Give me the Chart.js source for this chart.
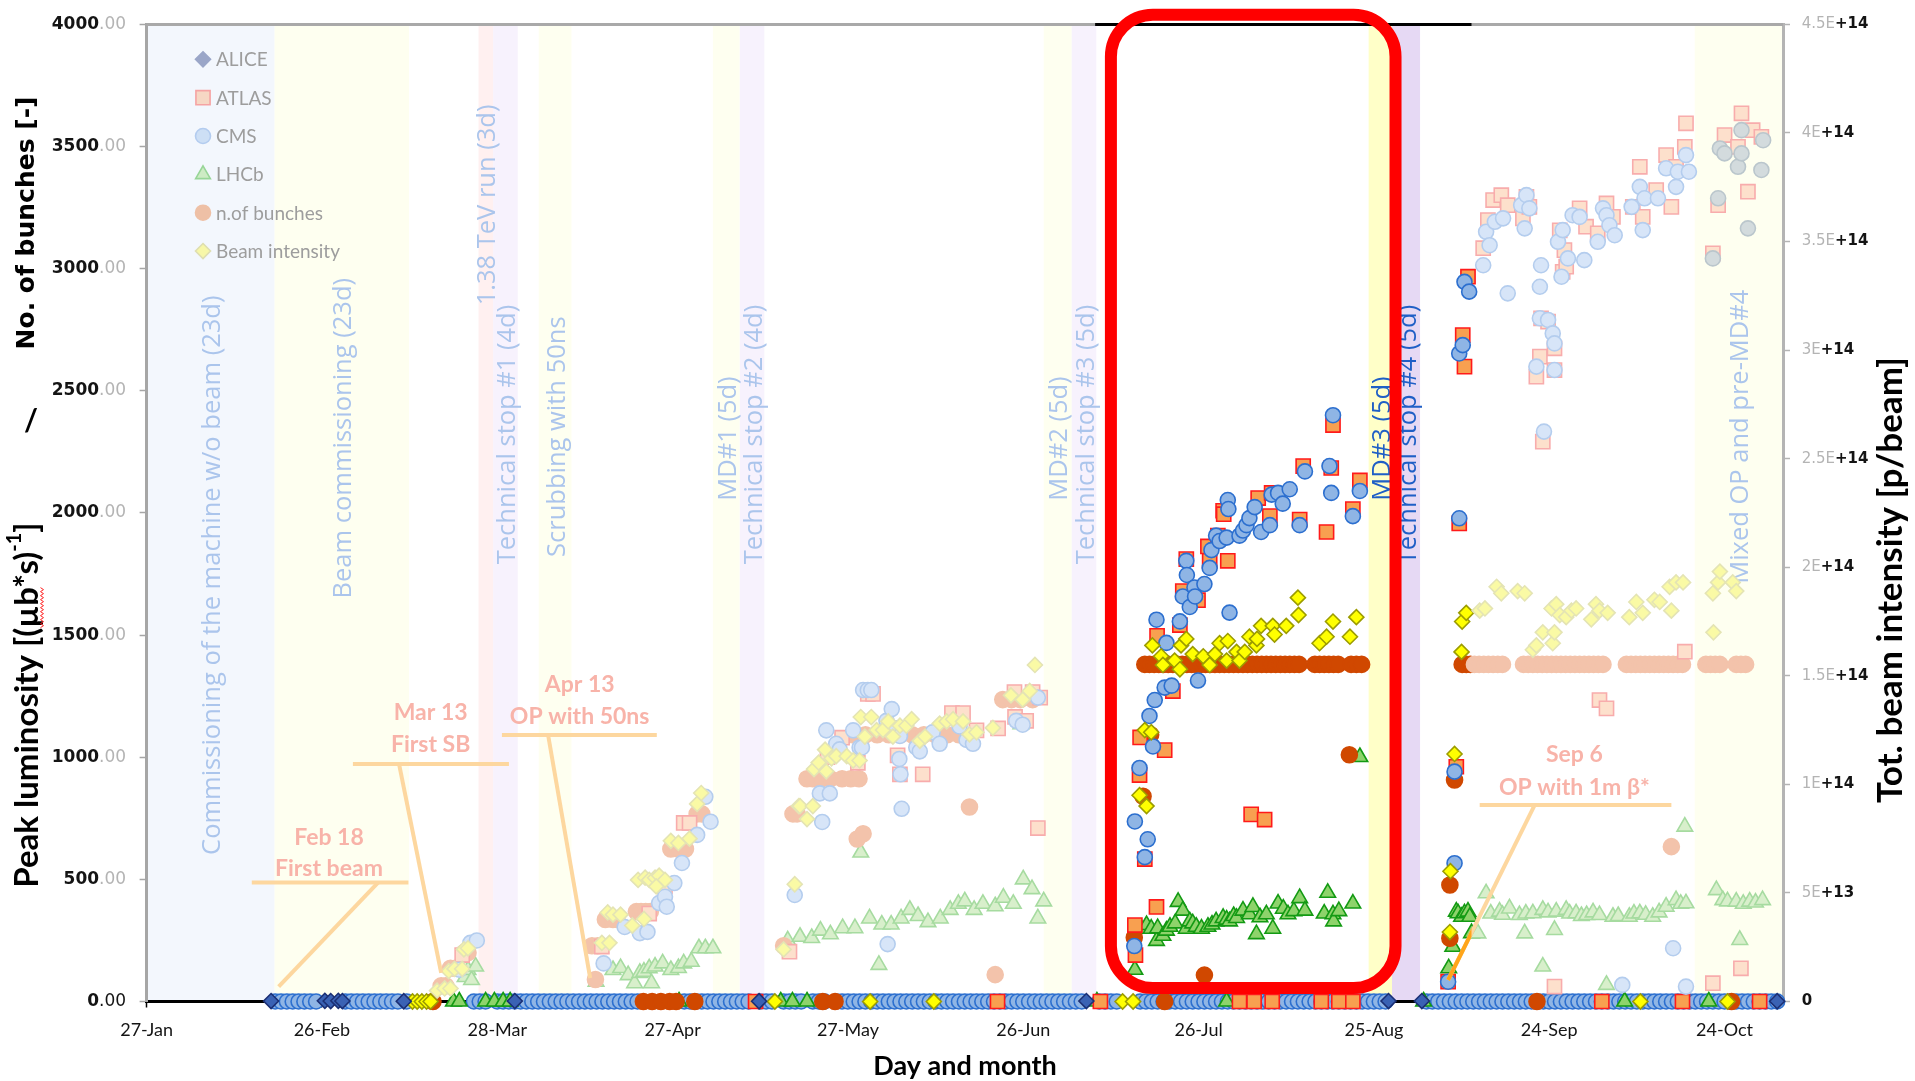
<!DOCTYPE html>
<html>
<head>
<meta charset="utf-8">
<title>LHC 2011 – peak luminosity, bunches and beam intensity</title>
<script src="https://cdn.jsdelivr.net/npm/chart.js@4.4.1/dist/chart.umd.min.js"></script>
<style>
  html, body { margin: 0; padding: 0; background: #ffffff; }
  #box { width: 1915px; height: 1081px; }
</style>
</head>
<body>
<div id="box"><canvas id="lumi" width="1915" height="1081"></canvas></div>
<script>
// ===================== data =====================
// x values are days of the year 2011 (27 = 27 January)
const tickDays   = [27, 57, 87, 117, 147, 177, 207, 237, 267, 297];
const tickLabels = ['27-Jan','26-Feb','28-Mar','27-Apr','27-May','26-Jun','26-Jul','25-Aug','24-Sep','24-Oct'];
const lumiTicks  = [0, 500, 1000, 1500, 2000, 2500, 3000, 3500, 4000];
const beamTicks  = [0, 5e13, 1e14, 1.5e14, 2e14, 2.5e14, 3e14, 3.5e14, 4e14, 4.5e14];
const beamTickLabels = ['0','5E+13','1E+14','1.5E+14','2E+14','2.5E+14','3E+14','3.5E+14','4E+14','4.5E+14'];

// machine schedule
const periodNames = ['Commissioning of the machine w/o beam (23d)','Beam commissioning (23d)','1.38 TeV run (3d)',
  'Technical stop #1 (4d)','Scrubbing with 50ns','MD#1 (5d)','Technical stop #2 (4d)','MD#2 (5d)',
  'Technical stop #3 (5d)','MD#3 (5d)','Technical stop #4 (5d)','Mixed OP and pre-MD#4'];
const periodStart = [27, 48.9, 83.8, 86.3, 94.1, 123.9, 128.5, 180.5, 185.3, 236.1, 240.1, 291.9];
const periodEnd   = [48.9, 71.9, 86.3, 90.5, 99.7, 128.5, 132.7, 185.3, 189.5, 240.1, 244.9, 307];
const periodKind  = ['setup','md','lowenergy','stop','md','md','stop','md','stop','md','stop','md'];

// milestones
const milestoneTitle = ['Feb 18', 'Mar 13', 'Apr 13', 'Sep 6'];
const milestoneText  = ['First beam', 'First SB', 'OP with 50ns', 'OP with 1m β*'];

// days highlighted (July – early September)
const focusFrom = 189.3, focusTo = 253.7;

// ALICE peak luminosity [(µb*s)^-1]
const alicePoints = [[48.3,2],[57.5,3],[58.5,2],[59.8,3],[60.5,2],[71,1],[90,2],[131.8,1],[187.8,2],[239.5,2],[245.2,2],[306,1]];

// ATLAS peak luminosity
const atlasPoints = [[81,190],
  [104.9,225],[113,360],[115.7,470],[118.9,731],[119.9,731],
  [137,204],[143.5,1000],[146,1080],[148.7,977],[150.4,1259],[151.3,1259],[155.5,1008],[155.9,930],[159.8,930],[164.8,1181],[166.7,1181],
  [169,1110],[172.7,1118],[175.5,1267],[175.6,1165],[177.5,1149],[178.6,1267],[179.5,710],[179.9,1244],
  [196.1,313],[196.2,190],[196.9,927],[197,1081],[197.8,583],[199.8,387],[199.9,1497],[201.2,1029],[202.6,1271],[203.8,1541],
  [204.3,1680],[204.9,1811],[206.9,1643],[208.6,1863],[208.9,1804],[210.3,1907],[211.2,2009],[211.3,1995],[212,1804],[216,766],
  [217.2,2061],[218.3,745],[219.2,1987],[219.5,2082],[224.3,1973],[224.9,2192],[228.9,1922],[229.7,2184],[230,2360],[233.4,2016],[234.6,2133],
  [249.7,81],[251.1,961],[251.6,1957],[252.2,2728],[252.5,2599],[253.1,2967],
  [255.7,3084],[256.5,3199],[257.4,3281],[258.8,3301],[259.9,3260],[262.5,3206],[263.1,3294],[263.6,3253],[264.8,2558],[265.4,2640],
  [265.6,2797],[265.9,2292],[266.8,2783],[267.9,2674],[267.9,2585],[267.9,61],[268.8,3157],[269.3,2987],[269.6,3076],[269.9,3008],
  [272.2,3247],[273.3,3172],[275.3,3145],[275.6,1234],[276.8,1200],[276.8,3267],[277.9,3212],[281.3,3253],[282.5,3417],[283,3212],
  [285.3,3322],[287,3465],[287.9,3253],[288.7,3417],[290.2,1432],[290.2,3499],[290.4,3595],[295,3063],[295,75],[295.9,3260],
  [297,3547],[299.3,3499],[299.8,136],[299.9,3636],[301,3315],[301.8,3567],[303.3,3540]];
const atlasZeroDays = [131.2,172.6,190.2,214,216.5,219.6,228,231,233.4,276,289.8,303];

// CMS peak luminosity
const cmsPoints = [[80.5,130],[82.4,240],[83.5,250],
  [105.2,156],[108.8,305],[111.4,280],[112.7,285],[114.7,403],[115.7,429],[116,388],[117.3,485],[118.6,567],[121.2,682],[122.6,838],[123.5,736],
  [137.9,436],[142.2,852],[142.6,735],[143.3,1110],[143.9,852],[145,1055],[145.6,1032],[147.9,1110],[149,1040],[149.4,1040],[149.6,1275],
  [150.4,1275],[151,1275],[153.6,1149],[153.8,235],[154.5,1197],[155.3,1118],[155.8,993],[155.9,1087],[156,930],[156.2,789],[158.7,1040],
  [159.3,1024],[161.5,1102],[162.7,1055],[166.1,1126],[167.3,1071],[168.4,1055],[175.8,1149],[176.9,1133],[179.5,1244],
  [196,227],[196.1,737],[196.9,956],[197.8,591],[198.3,664],[198.6,1169],[199.2,1044],[199.5,1234],[199.8,1563],[201.2,1285],[201.5,1468],
  [202.4,1293],[203.8,1556],[204.3,1658],[204.9,1804],[205,1746],[205.5,1615],[206.3,1695],[206.4,1658],[206.9,1314],[208,1709],[208.9,1775],
  [209.2,1848],[210,1907],[210.6,1885],[211.8,1899],[212,2053],[212.1,2016],[212.3,1592],[214,1907],[214.6,1928],[215.2,1950],[215.7,1979],
  [216.6,2024],[217.7,1922],[219.2,1950],[219.5,2075],[220.6,2082],[221.4,2038],[222.6,2097],[224.3,1950],[225.2,2170],[229.4,2192],
  [229.7,2082],[230,2400],[233.4,1987],[234.6,2090],
  [249.7,81],[250.8,566],[250.8,941],[251.6,1978],[251.6,2653],[252.2,2687],[252.5,2946],[253.3,2906],
  [255.7,3014],[256.2,3151],[256.8,3096],[257.7,3192],[259.1,3206],[259.9,2899],[262.2,3260],[262.8,3165],[263.1,3301],[263.6,3247],
  [264.8,2599],[265.4,2926],[265.4,2797],[265.6,3014],[266.1,2333],[266.8,2790],[267.6,2735],[267.9,2694],[267.9,2585],[268.5,3110],
  [269.1,2967],[269.3,3158],[270.2,3042],[271,3219],[272.2,3212],[273,3035],[275.3,3110],[276.2,3247],[276.8,3219],[277.3,3178],
  [278.2,3137],[279.5,68],[281.1,3253],[282.5,3335],[283,3158],[283.3,3288],[285.6,3288],[287,3411],[288.2,218],[288.7,3335],[289,3397],
  [290.4,3465],[290.4,61],[290.9,3397],[295,3042],[295.9,3288],[296.2,3492],[297,3472],[299.3,3417],[299.9,3567],[299.9,3472],[301,3165],
  [303.3,3404],[303.6,3526]];
const cmsZeroDays = [49,50,51,52,53,54,55,56,61,62,63,64,65,66,67,68,69,70,71.5,83,84,85,87,88,89,90,91,92,93,94,95,96,97,98,99,100,101,102,
  103,104,105,106,107,108,109,110,111,119,120,121,122,123,124,125,126,127,128,129,130,132,133,134,136,137,138,139,141,142,143,145,146,147,
  148,149,150,151,152,153,154,155,156,157,158,159,160,161,162,163,164,165,166,167,168,169,170,171,172,173,174,175,176,177,178,179,180,181,
  182,183,184,185,186,187,190,191,192,193,197,198,199,200,201,202,203,204,205,206,207,208,209,210,211,212,213,214,215,216,217,218,219,220,
  221,222,223,224,225,226,227,228,229,230,231,232,233,234,235,236,237,238,239,246,247,248,249,250,251,252,253,254,255,256,257,258,259,260,
  261,262,263,264,265,266,267,268,269,270,271,272,273,274,275,276,277,278,279,280,281,282,283,284,285,286,287,288,289,290,291,292,293,294,
  295,296,297,298,299,300,301,302,303,304,305,306];

// LHCb peak luminosity
const lhcbPoints = [[81.5,100],[82,129],[82.6,88],[83.3,143],
  [103.9,81],[106.8,129],[108.1,137],[109.4,108],[110.5,75],[111.4,117],[112.1,122],[113,136],[113.4,75],[114,143],[115.3,156],[116.7,129],
  [118,137],[118.9,156],[120.2,163],[121.5,218],[122.6,218],[123.9,218],
  [136.7,250],[138.8,265],[140.8,260],[142.3,290],[144,275],[146.1,300],[148.2,300],[149.2,610],[150.7,340],[152.3,150],[152.8,315],
  [154.4,315],[156.1,340],[157.6,375],[159,350],[160.7,325],[162.8,340],[164.5,375],[165.9,400],[167,410],[168.6,375],[170.1,400],
  [172.2,390],[173.6,425],[175.3,400],[176.6,1135],[177,500],[178.5,460],[179.5,340],[180.5,410],
  [196.1,130],[197.2,298],[198.1,313],[198.9,298],[199.8,248],[200,300],[200.9,269],[201.5,290],[202.1,306],[203,320],[203.5,408],
  [204.3,372],[204.9,298],[205.5,328],[206,320],[206.6,306],[207.5,298],[208.6,306],[209.3,315],[210,328],[211.2,342],[211.8,335],
  [212.3,328],[213,350],[213.5,342],[214.6,372],[215.7,357],[216.3,387],[216.9,276],[217.5,345],[218.6,357],[219.7,298],[220.6,401],
  [221.5,380],[222.3,357],[223.3,370],[224.3,423],[225.2,372],[228.5,360],[229.1,445],[230,357],[230.1,328],[231,370],[233.4,401],[234.6,1001],
  [249.8,136],[250.5,224],[251.1,368],[251.4,361],[252,347],[252.5,361],[253.1,368],[253.4,347],[253.7,280],
  [254.8,279],[256.2,443],[257,360],[258.5,368],[259,355],[260.2,381],[261.9,354],[262.8,279],[263,360],[264.2,361],[265.9,375],
  [265.9,143],[266.8,365],[267.9,293],[268.2,368],[269.9,375],[270.5,360],[271.6,361],[272.5,350],[273.4,354],[274.5,365],[275.6,354],
  [276.8,68],[277.9,347],[278.8,350],[280.7,347],[281.5,360],[282.5,361],[283.5,355],[284.7,347],[285.8,365],[287,388],[288.7,415],
  [289.5,400],[290.2,716],[290.4,402],[295.6,456],[296.7,415],[297.5,410],[299,409],[299.6,252],[300.2,400],[301.3,409],[302.3,405],[303.5,415]];
const lhcbZeroDays = [79.5,80.5,85,86.5,88,89.2,118.1,135.5,137.5,140,189.6,211.8,232.3,245.5,279.9,294.3];

// number of colliding bunches
const bunchPoints = [[77.4,64],[78.2,64],[79,136],[79.8,136],[81.3,200],[82,200],
  [103.2,228],[103.8,90],[104.2,228],[105.5,336],[106.8,336],[107.5,336],[110.8,368],[111.6,368],[112.4,368],[113.2,368],[114.7,480],
  [115.4,480],[116.7,624],[118,624],[119.2,624],[121.2,768],[122,768],
  [136,228],[137.6,768],[138.3,768],[140,912],[141,912],[142.5,912],[144,912],[146,912],[147.5,912],[147.8,1092],[148.6,665],[148.9,912],
  [149.6,687],[150,1092],[152,1092],[154,1092],[156,1092],[158,1092],[160,1092],[162,1092],[164,1092],[166,1092],[167.8,796],[172.2,110],
  [173.5,1236],[175,1236],[176.5,1236],[178.6,1236],
  [196,262],[197.5,840],[198.8,1092],[208,108],[232.8,1010],
  [197.8,1380],[198.6,1380],[199.4,1380],[200.2,1380],[201,1380],[201.8,1380],[202.6,1380],[203.4,1380],[204.2,1380],[205,1380],
  [205.8,1380],[206.6,1380],[207.4,1380],[208.2,1380],[209,1380],[209.8,1380],[210.6,1380],[211.4,1380],[212.2,1380],[213,1380],
  [213.8,1380],[214.6,1380],[215.4,1380],[216.2,1380],[217,1380],[217.8,1380],[218.6,1380],[219.4,1380],[220.2,1380],[221,1380],
  [221.8,1380],[222.6,1380],[223.4,1380],[224.2,1380],[226.9,1380],[227.7,1380],[228.5,1380],[229.3,1380],[230.1,1380],[230.9,1380],
  [233.1,1380],[234,1380],[234.9,1380],
  [250,259],[250,477],[250.8,907],[252.1,1380],[252.8,1380],[253.5,1380],
  [254.2,1380],[255,1380],[255.8,1380],[256.6,1380],[257.4,1380],[258.2,1380],[259,1380],
  [262.6,1380],[263.4,1380],[264.2,1380],[265,1380],[265.8,1380],[266.6,1380],[267.4,1380],[268.2,1380],[269,1380],[269.8,1380],
  [270.6,1380],[271.4,1380],[272.2,1380],[273,1380],[273.8,1380],[274.6,1380],[275.4,1380],[276.2,1380],
  [280.2,1380],[281,1380],[281.8,1380],[282.6,1380],[283.4,1380],[284.2,1380],[285,1380],[285.8,1380],[286.6,1380],[287.4,1380],
  [288.2,1380],[289,1380],[289.8,1380],
  [293.8,1380],[294.6,1380],[295.4,1380],[296.2,1380],[299,1380],[299.8,1380],[300.6,1380],[287.9,634]];
const bunchZeroDays = [76,112,113.5,115,116.5,117.6,120.8,142.7,144.8,201.2,264.9,298.2];

// total beam intensity [p/beam]
const beamPoints = [[76.7,0.05e14],[78,0.06e14],[78.7,0.14e14],[79,0.06e14],[79.7,0.15e14],[81,0.15e14],[81.3,0.24e14],[82,0.245e14],
  [104.9,0.27e14],[106.2,0.27e14],[105.9,0.41e14],[106.8,0.40e14],[108.1,0.40e14],[110.1,0.35e14],[112.1,0.38e14],[111.1,0.56e14],
  [112.3,0.57e14],[113,0.56e14],[114,0.57e14],[114.7,0.58e14],[115.7,0.56e14],[114.2,0.53e14],[116.7,0.74e14],[118,0.73e14],
  [119.9,0.75e14],[121.2,0.91e14],[121.9,0.96e14],
  [136,0.24e14],[137.9,0.54e14],[138.6,0.90e14],[138.8,0.90e14],[140,0.84e14],[141,0.90e14],[141.2,1.07e14],[142,1.10e14],
  [143.1,1.16e14],[144.2,1.12e14],[143.3,1.06e14],[145,1.13e14],[146.8,1.13e14],[147.9,1.11e14],[149,1.11e14],[149.2,1.31e14],
  [151,1.31e14],[149.9,1.22e14],[151.9,1.25e14],[153,1.25e14],[153.9,1.29e14],[154.7,1.22e14],[155.9,1.27e14],[157,1.27e14],
  [157.9,1.30e14],[159.3,1.20e14],[160.2,1.22e14],[162.7,1.28e14],[163.9,1.29e14],[165,1.30e14],[166.7,1.29e14],[167.8,1.23e14],
  [169,1.24e14],[171.8,1.26e14],[174.9,1.41e14],[176.9,1.39e14],[178.1,1.43e14],[179,1.55e14],
  [196.9,0.95e14],[198.1,0.90e14],[197.8,1.25e14],[198.9,1.24e14],[199.1,1.64e14],[200.6,1.59e14],[200.9,1.55e14],[202.9,1.57e14],
  [203.8,1.53e14],[204,1.64e14],[204.9,1.67e14],[206,1.60e14],[207.8,1.59e14],[208.9,1.55e14],[209.8,1.60e14],[210.6,1.65e14],
  [211.8,1.57e14],[212,1.66e14],[213.5,1.61e14],[214,1.57e14],[214.9,1.61e14],[215.7,1.68e14],[216.9,1.64e14],[217,1.67e14],
  [217.7,1.73e14],[219.7,1.73e14],[220,1.69e14],[222,1.73e14],[224,1.86e14],[224.1,1.78e14],[227.7,1.65e14],[228.9,1.68e14],
  [230,1.75e14],[232.9,1.68e14],[234,1.77e14],
  [250,0.32e14],[250.1,0.60e14],[250.8,1.14e14],[252,1.61e14],[252.1,1.75e14],[252.8,1.79e14],
  [255.1,1.80e14],[256,1.81e14],[258,1.91e14],[258.8,1.88e14],[261.6,1.89e14],[262.8,1.88e14],[264.2,1.62e14],[264.8,1.64e14],
  [265.9,1.70e14],[267.6,1.65e14],[267.9,1.70e14],[267.4,1.81e14],[268.2,1.83e14],[268.8,1.78e14],[269.9,1.77e14],[270.8,1.80e14],
  [271.6,1.81e14],[274.2,1.76e14],[275,1.83e14],[275.6,1.80e14],[277,1.79e14],[280.7,1.77e14],[281.9,1.84e14],[283,1.79e14],
  [285,1.85e14],[285.9,1.84e14],[287.9,1.80e14],[287.6,1.91e14],[288.7,1.93e14],[289.9,1.93e14],[295,1.88e14],[295.9,1.93e14],
  [296.2,1.98e14],[295.1,1.70e14],[298.4,1.93e14],[299,1.89e14]];
const beamZeroDays = [72.5,73.3,74.1,74.9,75.6,134.5,150.8,161.7,194,195.8,282.6,297.5];

// ===================== styles =====================
const FONT = {
  leftInt: 'bold 17px "DejaVu Sans"',
  leftDec: '17px "DejaVu Sans"',
  rightHead: '15px "DejaVu Sans"',
  rightTail: 'bold 15px "DejaVu Sans"',
  period: '25.5px "Open Sans"',
  note: 'bold 23px Lato',
  legend: '19px Lato'
};
const DARK = '#141414', GREY = '#b4b4b4';
const bandFill = {
  setup: '#f3f7fd', md: '#fefff0', lowenergy: '#fff0f0', stop: '#f7f2fd',
  mdFocus: '#ffffc8', stopFocus: '#e6d9f4'
};
const periodLabelColor = { faded: '#abc5ec', focus: '#1f5fc6' };
const periodLabelBase = [600, 1650, 2850, 1790, 1820, 2050, 1790, 2050, 1790, 2050, 1790, 1710];

// where milestone notes sit, in axis units: [day, value]
const milestoneLayout = [
  { text: [58.2, 671, 546],  bar: [45, 71.8, 487],   leader: [[66.6, 487], [49.6, 61]] },
  { text: [75.6, 1181, 1050], bar: [62.3, 89, 972],   leader: [[70.2, 972], [77.4, 117]] },
  { text: [101.1, 1296, 1166], bar: [87.8, 114.3, 1091], leader: [[95.7, 1091], [102.9, 96]] },
  { text: [271.3, 1009, 874], bar: [255.1, 287.9, 804], leader: [[264.5, 804], [249.7, 88]] }
];
const noteColor = '#f8b3a9', noteLine = '#fdd79f', noteLineFocus = '#ffa51a';
const frame = { days: [192, 240.7], lumi: [55, 4040], radius: 42, width: 12, color: '#ff0000' };

const MARK = {
  alice:   { shape: 'rectRot',  r: 7.5, strong: ['#3a62b4', '#1b2f74'], faded: ['#9aa6c8', '#8d9bc2'] },
  atlas:   { shape: 'rect',     r: 10,  strong: ['#f8a050', '#ff1a1a'], faded: ['#fde0cc', '#f8acac'] },
  cms:     { shape: 'circle',   r: 7.5, strong: ['#8fb5e5', '#2c6fcf'], faded: ['#d7e5f8', '#b4cdee'], late: ['#d3dbdd', '#bac6cc'] },
  lhcb:    { shape: 'triangle', r: 9,   strong: ['#8ed36b', '#139a13'], faded: ['#d8efcb', '#a6dba0'] },
  bunches: { shape: 'circle',   r: 8,   strong: ['#d04800', '#d04800'], faded: ['#f3c3ab', '#f3c3ab'] },
  beam:    { shape: 'rectRot',  r: 7.5, strong: ['#ffff00', '#9c9c00'], faded: ['#fafaa5', '#e4e4b4'] }
};
const legendItems = [
  ['ALICE',          'rectRot',  '#9aa6c8', '#9aa6c8'],
  ['ATLAS',          'rect',     '#f6d7c4', '#f5a3a3'],
  ['CMS',            'circle',   '#cddff5', '#b3ccef'],
  ['LHCb',           'triangle', '#cdebc4', '#97d597'],
  ['n.of bunches',   'circle',   '#eec0a6', '#eec0a6'],
  ['Beam intensity', 'rectRot',  '#f7f7a8', '#dedeb0']
];

// ===================== helpers =====================
const series = (points, zeroDays) =>
  points.map(p => ({ x: p[0], y: p[1] })).concat((zeroDays || []).map(d => ({ x: d, y: 0 })));
const inFocus = p => !p || p.y === 0 || (p.x >= focusFrom && p.x <= focusTo);
const lateDay = periodStart[periodStart.length - 1];

function makeSet(label, data, m, axis, order, alwaysStrong) {
  const pick = (c, k) => {
    const p = c.raw;
    if (alwaysStrong || inFocus(p)) return m.strong[k];
    if (m.late && p && p.x >= lateDay) return m.late[k];
    return m.faded[k];
  };
  return {
    label, data, yAxisID: axis, order, clip: false, showLine: false,
    pointStyle: m.shape, pointRadius: m.r, pointHoverRadius: m.r, pointBorderWidth: 1.6,
    pointBackgroundColor: c => pick(c, 0),
    pointBorderColor: c => pick(c, 1)
  };
}

function marker(ctx, shape, x, y, r, fill, stroke) {
  ctx.beginPath();
  if (shape === 'circle') ctx.arc(x, y, r, 0, Math.PI * 2);
  else if (shape === 'rect') { const s = r * Math.SQRT1_2; ctx.rect(x - s, y - s, 2 * s, 2 * s); }
  else if (shape === 'rectRot') { ctx.moveTo(x, y - r); ctx.lineTo(x + r, y); ctx.lineTo(x, y + r); ctx.lineTo(x - r, y); ctx.closePath(); }
  else if (shape === 'triangle') {
    for (let k = 0; k < 3; k++) {
      const a = k * 2 * Math.PI / 3;
      const px = x + Math.sin(a) * r, py = y - Math.cos(a) * r;
      k ? ctx.lineTo(px, py) : ctx.moveTo(px, py);
    }
    ctx.closePath();
  }
  ctx.fillStyle = fill; ctx.fill();
  ctx.lineWidth = 1.6; ctx.strokeStyle = stroke; ctx.stroke();
}

function roundedRect(ctx, x0, y0, x1, y1, r) {
  ctx.beginPath();
  ctx.moveTo(x0 + r, y0);
  ctx.arcTo(x1, y0, x1, y1, r);
  ctx.arcTo(x1, y1, x0, y1, r);
  ctx.arcTo(x0, y1, x0, y0, r);
  ctx.arcTo(x0, y0, x1, y0, r);
  ctx.closePath();
}

// ===================== drawing plugin =====================
const decor = {
  id: 'decor',
  beforeDraw(chart) {
    const { ctx, chartArea: a, scales: { x, y } } = chart;
    ctx.save();
    // schedule bands
    periodStart.forEach((s, i) => {
      const focus = s >= focusFrom && periodEnd[i] <= focusTo;
      const kind = periodKind[i] + (focus && periodKind[i] !== 'setup' ? 'Focus' : '');
      const x0 = x.getPixelForValue(s), x1 = x.getPixelForValue(periodEnd[i]);
      ctx.fillStyle = bandFill[kind] || bandFill[periodKind[i]];
      ctx.fillRect(x0, a.top, x1 - x0, a.bottom - a.top);
    });
    // band captions, written upwards
    ctx.font = FONT.period;
    ctx.textAlign = 'left';
    ctx.textBaseline = 'middle';
    periodNames.forEach((t, i) => {
      const focus = periodStart[i] >= focusFrom && periodEnd[i] <= focusTo;
      const cx = x.getPixelForValue((periodStart[i] + periodEnd[i]) / 2 + 0.4);
      const by = y.getPixelForValue(periodLabelBase[i]);
      ctx.save();
      ctx.translate(cx, by);
      ctx.rotate(-Math.PI / 2);
      ctx.fillStyle = focus ? periodLabelColor.focus : periodLabelColor.faded;
      ctx.fillText(t, 0, 0);
      ctx.restore();
    });
    ctx.restore();
  },
  afterDraw(chart) {
    const { ctx, chartArea: a, scales: { x, y, y1 } } = chart;
    const X = v => x.getPixelForValue(v), Y = v => y.getPixelForValue(v);
    ctx.save();

    // top frame line, dark over the highlighted weeks
    ctx.lineWidth = 3;
    ctx.strokeStyle = '#a9a9a9';
    ctx.beginPath(); ctx.moveTo(a.left, a.top); ctx.lineTo(a.right, a.top); ctx.stroke();
    ctx.strokeStyle = '#000000';
    ctx.beginPath(); ctx.moveTo(X(focusFrom), a.top); ctx.lineTo(X(focusTo), a.top); ctx.stroke();

    // milestone notes
    milestoneLayout.forEach((m, i) => {
      ctx.lineWidth = 4;
      ctx.lineCap = 'butt';
      ctx.strokeStyle = noteLine;
      ctx.beginPath(); ctx.moveTo(X(m.bar[0]), Y(m.bar[2])); ctx.lineTo(X(m.bar[1]), Y(m.bar[2])); ctx.stroke();
      const [p, q] = m.leader;
      ctx.beginPath(); ctx.moveTo(X(p[0]), Y(p[1])); ctx.lineTo(X(q[0]), Y(q[1])); ctx.stroke();
      // part of the leader inside the highlighted weeks
      ctx.save();
      ctx.beginPath(); ctx.rect(X(focusFrom), a.top, X(focusTo) - X(focusFrom), a.bottom - a.top); ctx.clip();
      ctx.strokeStyle = noteLineFocus;
      ctx.beginPath(); ctx.moveTo(X(p[0]), Y(p[1])); ctx.lineTo(X(q[0]), Y(q[1])); ctx.stroke();
      ctx.restore();
      ctx.font = FONT.note;
      ctx.fillStyle = noteColor;
      ctx.textAlign = 'center';
      ctx.textBaseline = 'middle';
      ctx.fillText(milestoneTitle[i], X(m.text[0]), Y(m.text[1]));
      ctx.fillText(milestoneText[i], X(m.text[0]), Y(m.text[2]));
    });

    // red frame around the July–August ramp
    ctx.lineWidth = frame.width;
    ctx.strokeStyle = frame.color;
    roundedRect(ctx, X(frame.days[0]), Y(frame.lumi[1]), X(frame.days[1]), Y(frame.lumi[0]), frame.radius);
    ctx.stroke();

    // left axis values: integer part dark, decimals grey
    ctx.textBaseline = 'middle';
    ctx.textAlign = 'right';
    const rightEdge = a.left - 20.5;
    lumiTicks.forEach(v => {
      const yy = Y(v);
      ctx.font = FONT.leftDec;
      const wDec = ctx.measureText('.00').width;
      ctx.fillStyle = v === 0 ? DARK : GREY;
      ctx.fillText('.00', rightEdge, yy);
      ctx.font = FONT.leftInt;
      ctx.fillStyle = DARK;
      ctx.fillText(String(v), rightEdge - wDec, yy);
    });

    // right axis values: mantissa grey, exponent dark
    ctx.textAlign = 'left';
    beamTicks.forEach((v, i) => {
      const yy = y1.getPixelForValue(v);
      const lab = beamTickLabels[i];
      const k = lab.indexOf('+');
      const head = k < 0 ? '' : lab.slice(0, k);
      const tail = k < 0 ? lab : lab.slice(k);
      let xx = a.right + 18.7;
      ctx.font = FONT.rightHead; ctx.fillStyle = GREY;
      ctx.fillText(head, xx, yy);
      xx += ctx.measureText(head).width;
      ctx.font = FONT.rightTail; ctx.fillStyle = DARK;
      ctx.fillText(tail, xx, yy);
    });

    // axis titles
    ctx.fillStyle = '#000000';
    ctx.textBaseline = 'middle';
    // left, lower part with superscript
    ctx.save();
    ctx.translate(27, 705);
    ctx.rotate(-Math.PI / 2);
    const mainFont = 'bold 33px Lato';
    const parts = [['Peak luminosity [(µb*s)', mainFont, 0], ['-1', 'bold 20px Lato', -12], [']', mainFont, 0]];
    let total = 0;
    parts.forEach(pt => { ctx.font = pt[1]; total += ctx.measureText(pt[0]).width; });
    let cx = -total / 2;
    ctx.textAlign = 'left';
    ctx.font = mainFont;
    const muStart = cx + ctx.measureText('Peak luminosity [(').width;
    const muEnd = cx + ctx.measureText('Peak luminosity [(µb').width;
    parts.forEach(pt => { ctx.font = pt[1]; ctx.fillText(pt[0], cx, pt[2]); cx += ctx.measureText(pt[0]).width; });
    // spelling squiggle under "µb"
    ctx.strokeStyle = '#ff2020'; ctx.lineWidth = 1;
    ctx.beginPath();
    for (let sx = muStart, k = 0; sx <= muEnd; sx += 2, k++) {
      const sy = 15 + (k % 2 ? 1.5 : -1.5);
      k ? ctx.lineTo(sx, sy) : ctx.moveTo(sx, sy);
    }
    ctx.stroke();
    ctx.restore();

    ctx.save();
    ctx.translate(27, 223);
    ctx.rotate(-Math.PI / 2);
    ctx.textAlign = 'center';
    ctx.font = 'bold 25px "DejaVu Sans"';
    ctx.fillText('No. of bunches [-]', 0, 0);
    ctx.restore();

    ctx.textAlign = 'center';
    ctx.font = 'bold 30px Lato';
    ctx.fillText('/', 31, 421);

    ctx.save();
    ctx.translate(1891, 580);
    ctx.rotate(-Math.PI / 2);
    ctx.font = 'bold 35px Lato';
    ctx.fillText('Tot. beam intensity [p/beam]', 0, 0);
    ctx.restore();

    ctx.font = 'bold 27px Lato';
    ctx.fillText('Day and month', 965, 1066);

    // legend
    ctx.textAlign = 'left';
    ctx.font = FONT.legend;
    legendItems.forEach((it, i) => {
      const ly = 59.3 + i * 38.35;
      marker(ctx, it[1], 203, ly, it[1] === 'rect' ? 10 : (it[1] === 'triangle' ? 8.5 : 7.5), it[2], it[3]);
      ctx.fillStyle = '#9d9d9d';
      ctx.fillText(it[0], 216, ly + 1);
    });
    ctx.restore();
  }
};

// ===================== chart =====================
new Chart(document.getElementById('lumi'), {
  type: 'scatter',
  data: {
    datasets: [
      makeSet('ALICE', series(alicePoints), MARK.alice, 'y', 0, true),
      makeSet('Beam intensity', series(beamPoints, beamZeroDays), MARK.beam, 'y1', 1),
      makeSet('CMS', series(cmsPoints), MARK.cms, 'y', 2),
      makeSet('ATLAS', series(atlasPoints, atlasZeroDays), MARK.atlas, 'y', 3),
      makeSet('n.of bunches', series(bunchPoints, bunchZeroDays), MARK.bunches, 'y', 4),
      makeSet('LHCb', series(lhcbPoints, lhcbZeroDays), MARK.lhcb, 'y', 5),
      makeSet('CMS', series([], cmsZeroDays), MARK.cms, 'y', 6)
    ]
  },
  options: {
    responsive: false,
    animation: false,
    devicePixelRatio: 1,
    events: [],
    layout: { padding: { top: 24.4, left: 0, right: 0, bottom: 0 } },
    plugins: { legend: { display: false }, tooltip: { enabled: false } },
    scales: {
      x: {
        type: 'linear', position: 'bottom', min: 27, max: 307,
        afterBuildTicks: s => { s.ticks = tickDays.map(v => ({ value: v })); },
        afterFit: s => { s.height = 79.5; },
        grid: { display: true, drawOnChartArea: false, drawTicks: true, tickLength: 6, tickWidth: 1.5, tickColor: '#000000' },
        border: { display: true, color: '#000000', width: 3 },
        ticks: {
          autoSkip: false, maxRotation: 0, padding: 12, color: DARK,
          font: { family: 'Lato', size: 18 },
          callback: v => { const k = tickDays.indexOf(v); return k < 0 ? '' : tickLabels[k]; }
        }
      },
      y: {
        type: 'linear', position: 'left', min: 0, max: 4000,
        afterFit: s => { s.width = 146.6; },
        grid: { display: true, drawOnChartArea: false, drawTicks: true, tickLength: 7, tickWidth: 1.5, tickColor: '#a6a6a6' },
        border: { display: true, color: '#a6a6a6', width: 3 },
        ticks: { stepSize: 500, display: false }
      },
      y1: {
        type: 'linear', position: 'right', min: 0, max: 4.5e14,
        afterFit: s => { s.width = 132; },
        grid: { display: true, drawOnChartArea: false, drawTicks: true, tickLength: 7, tickWidth: 1.5, tickColor: '#b4b4b4' },
        border: { display: true, color: '#b4b4b4', width: 3 },
        ticks: { stepSize: 5e13, display: false }
      }
    }
  },
  plugins: [decor]
});
</script>
</body>
</html>
